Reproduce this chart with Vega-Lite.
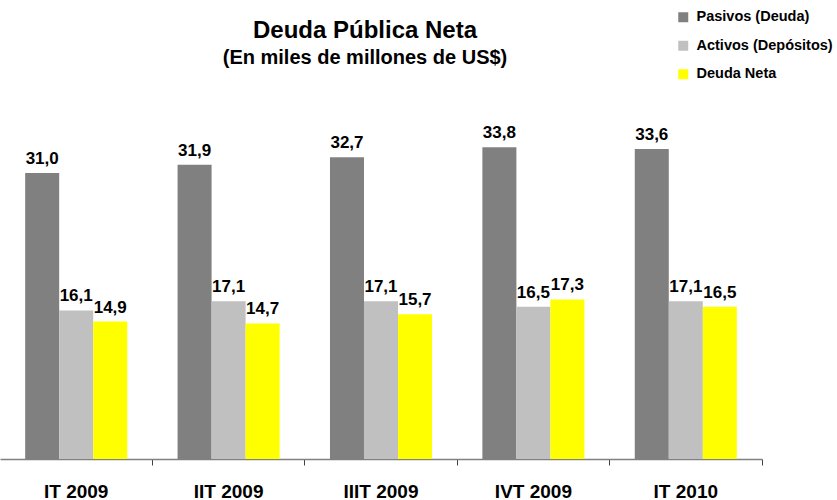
{
  "$schema": "https://vega.github.io/schema/vega-lite/v6.json",
  "width": 762,
  "height": 369,
  "autosize": {"type": "none"},
  "padding": {"left": 0, "top": 90, "right": 75, "bottom": 41},
  "background": "white",
  "config": {
    "view": {"stroke": null},
    "font": "Liberation Sans",
    "locale": {"number": {"decimal": ",", "thousands": ".", "grouping": [3], "currency": ["", " US$"]}}
  },
  "title": {
    "text": "Deuda Pública Neta",
    "subtitle": "(En miles de millones de US$)",
    "anchor": "middle",
    "frame": "group",
    "dx": -16,
    "offset": -58,
    "font": "Liberation Sans",
    "fontSize": 24,
    "fontWeight": "bold",
    "color": "black",
    "subtitleFont": "Liberation Sans",
    "subtitleFontSize": 20,
    "subtitleFontWeight": "bold",
    "subtitleColor": "black",
    "subtitlePadding": 5
  },
  "data": {
    "values": [
      {"trimestre": "IT 2009", "serie": "Pasivos (Deuda)", "valor": 31.0},
      {"trimestre": "IT 2009", "serie": "Activos (Depósitos)", "valor": 16.1},
      {"trimestre": "IT 2009", "serie": "Deuda Neta", "valor": 14.9},
      {"trimestre": "IIT 2009", "serie": "Pasivos (Deuda)", "valor": 31.9},
      {"trimestre": "IIT 2009", "serie": "Activos (Depósitos)", "valor": 17.1},
      {"trimestre": "IIT 2009", "serie": "Deuda Neta", "valor": 14.7},
      {"trimestre": "IIIT 2009", "serie": "Pasivos (Deuda)", "valor": 32.7},
      {"trimestre": "IIIT 2009", "serie": "Activos (Depósitos)", "valor": 17.1},
      {"trimestre": "IIIT 2009", "serie": "Deuda Neta", "valor": 15.7},
      {"trimestre": "IVT 2009", "serie": "Pasivos (Deuda)", "valor": 33.8},
      {"trimestre": "IVT 2009", "serie": "Activos (Depósitos)", "valor": 16.5},
      {"trimestre": "IVT 2009", "serie": "Deuda Neta", "valor": 17.3},
      {"trimestre": "IT 2010", "serie": "Pasivos (Deuda)", "valor": 33.6},
      {"trimestre": "IT 2010", "serie": "Activos (Depósitos)", "valor": 17.1},
      {"trimestre": "IT 2010", "serie": "Deuda Neta", "valor": 16.5}
    ]
  },
  "encoding": {
    "x": {
      "field": "trimestre",
      "type": "nominal",
      "sort": ["IT 2009", "IIT 2009", "IIIT 2009", "IVT 2009", "IT 2010"],
      "scale": {"paddingInner": 0, "paddingOuter": 0},
      "axis": {
        "title": null,
        "labelAngle": 0,
        "labelFont": "Liberation Sans",
        "labelFontSize": 19,
        "labelFontWeight": "bold",
        "labelColor": "black",
        "labelBaseline": "alphabetic",
        "labelPadding": 32,
        "bandPosition": 1,
        "tickSize": 6,
        "tickColor": "#404040",
        "domainColor": "#808080",
        "domainWidth": 1.5,
        "grid": false
      }
    },
    "xOffset": {
      "field": "serie",
      "type": "nominal",
      "sort": ["Pasivos (Deuda)", "Activos (Depósitos)", "Deuda Neta"],
      "scale": {"paddingInner": 0, "paddingOuter": 0.74}
    },
    "y": {
      "field": "valor",
      "type": "quantitative",
      "scale": {"domain": [0, 40]},
      "axis": null
    }
  },
  "layer": [
    {
      "mark": {"type": "bar"},
      "encoding": {
        "color": {
          "field": "serie",
          "type": "nominal",
          "scale": {
            "domain": ["Pasivos (Deuda)", "Activos (Depósitos)", "Deuda Neta"],
            "range": ["#808080", "#C0C0C0", "#FFFF00"]
          },
          "legend": {
            "title": null,
            "orient": "none",
            "legendX": 676,
            "legendY": -80,
            "symbolType": "square",
            "symbolSize": 100,
            "symbolStrokeWidth": 0,
            "labelFont": "Liberation Sans",
            "labelFontSize": 14.5,
            "labelFontWeight": "bold",
            "labelColor": "black",
            "labelOffset": 6,
            "rowPadding": 13.5,
            "padding": 0
          }
        }
      }
    },
    {
      "mark": {"type": "text", "dy": -9, "baseline": "alphabetic", "font": "Liberation Sans", "fontSize": 17, "fontWeight": "bold", "color": "black"},
      "encoding": {
        "text": {"field": "valor", "type": "quantitative", "format": ".1f"}
      }
    }
  ]
}
